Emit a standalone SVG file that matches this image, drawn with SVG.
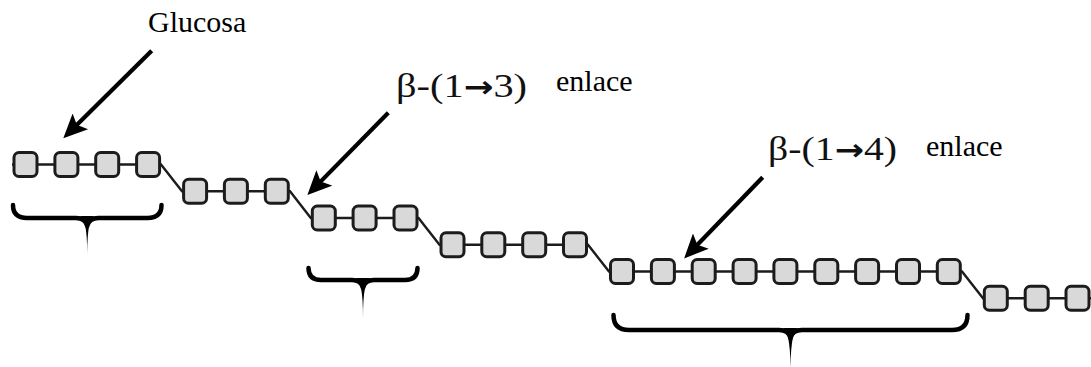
<svg xmlns="http://www.w3.org/2000/svg" width="1091" height="367" viewBox="0 0 1091 367">
<style>
.sq{fill:#d9d9d9;stroke:#1c1c1c;stroke-width:3}
.link{fill:none;stroke:#1c1c1c;stroke-width:2.4}
.arr{fill:none;stroke:#000;stroke-width:4.2}
.br{fill:none;stroke:#000;stroke-width:4.5;stroke-linecap:round}
.spk{fill:#000}
.lbl{font-size:30px;fill:#000}
.bt{font-size:34px;fill:#111}
.ar{font-weight:bold}
</style>
<defs>
<marker id="ah" markerUnits="userSpaceOnUse" markerWidth="26" markerHeight="22" viewBox="0 0 24 22" refX="14" refY="11" orient="auto">
<path d="M0,0 L24,11 L0,22 L5,11 z" fill="#000"/>
</marker>
</defs>
<rect width="1091" height="367" fill="#fff"/>
<g id="connectors">
<path class="link" d="M12,164.5 H161 L182,191.25 H290 L310.8,218 H418.5 L439.5,244.75 H588 L609,271.5 H962 L983,298.25 H1091"/>
<line class="arr" x1="151.7" y1="50.7" x2="70.4" y2="131.2" marker-end="url(#ah)"/>
<line class="arr" x1="388.3" y1="112.7" x2="314.4" y2="187.9" marker-end="url(#ah)"/>
<line class="arr" x1="762.7" y1="177.3" x2="691.1" y2="251.2" marker-end="url(#ah)"/>
</g>
<g id="row1">
<g id="n1"><rect class="sq" x="14" y="152.5" width="23" height="24" rx="5"/></g>
<g id="n2"><rect class="sq" x="54.9" y="152.5" width="23" height="24" rx="5"/></g>
<g id="n3"><rect class="sq" x="95.7" y="152.5" width="23" height="24" rx="5"/></g>
<g id="n4"><rect class="sq" x="136.6" y="152.5" width="23" height="24" rx="5"/></g>
</g>
<g id="row2">
<g id="n5"><rect class="sq" x="183.6" y="179.25" width="23" height="24" rx="5"/></g>
<g id="n6"><rect class="sq" x="224.4" y="179.25" width="23" height="24" rx="5"/></g>
<g id="n7"><rect class="sq" x="265.3" y="179.25" width="23" height="24" rx="5"/></g>
</g>
<g id="row3">
<g id="n8"><rect class="sq" x="312.3" y="206" width="23" height="24" rx="5"/></g>
<g id="n9"><rect class="sq" x="353.1" y="206" width="23" height="24" rx="5"/></g>
<g id="n10"><rect class="sq" x="394" y="206" width="23" height="24" rx="5"/></g>
</g>
<g id="row4">
<g id="n11"><rect class="sq" x="441" y="232.75" width="23" height="24" rx="5"/></g>
<g id="n12"><rect class="sq" x="481.8" y="232.75" width="23" height="24" rx="5"/></g>
<g id="n13"><rect class="sq" x="522.7" y="232.75" width="23" height="24" rx="5"/></g>
<g id="n14"><rect class="sq" x="563.5" y="232.75" width="23" height="24" rx="5"/></g>
</g>
<g id="row5">
<g id="n15"><rect class="sq" x="610.5" y="259.5" width="23" height="24" rx="5"/></g>
<g id="n16"><rect class="sq" x="651.4" y="259.5" width="23" height="24" rx="5"/></g>
<g id="n17"><rect class="sq" x="692.2" y="259.5" width="23" height="24" rx="5"/></g>
<g id="n18"><rect class="sq" x="733.1" y="259.5" width="23" height="24" rx="5"/></g>
<g id="n19"><rect class="sq" x="773.9" y="259.5" width="23" height="24" rx="5"/></g>
<g id="n20"><rect class="sq" x="814.8" y="259.5" width="23" height="24" rx="5"/></g>
<g id="n21"><rect class="sq" x="855.6" y="259.5" width="23" height="24" rx="5"/></g>
<g id="n22"><rect class="sq" x="896.5" y="259.5" width="23" height="24" rx="5"/></g>
<g id="n23"><rect class="sq" x="937.3" y="259.5" width="23" height="24" rx="5"/></g>
</g>
<g id="row6">
<g id="n24"><rect class="sq" x="984.3" y="286.25" width="23" height="24" rx="5"/></g>
<g id="n25"><rect class="sq" x="1025.2" y="286.25" width="23" height="24" rx="5"/></g>
<g id="n26"><rect class="sq" x="1066" y="286.25" width="23" height="24" rx="5"/></g>
</g>
<g id="brace1">
<path class="br" d="M13,205 Q13,218 27,218 H76 Q85,218 87.2,226 M161.5,205 Q161.5,218 147.5,218 H98.4 Q89.4,218 87.2,226"/>
<path class="spk" d="M79,216 Q87.2,216 87.2,254 Q87.2,216 95.4,216 Z"/>
</g>
<g id="brace2">
<path class="br" d="M308.5,268 Q308.5,280 321,280 H352 Q361,280 363,288 M417.5,268 Q417.5,280 405,280 H374 Q365,280 363,288"/>
<path class="spk" d="M355,278 Q363,278 363,318 Q363,278 371,278 Z"/>
</g>
<g id="brace3">
<path class="br" d="M613.5,315 Q613.5,330 629,330 H779 Q788.5,330 790.5,338 M967.5,315 Q967.5,330 952,330 H802 Q792.5,330 790.5,338"/>
<path class="spk" d="M782,328 Q790.5,328 790.5,372 Q790.5,328 799,328 Z"/>
</g>
<g id="labels" font-family="'Liberation Serif', 'Times New Roman', serif">
<text class="lbl" x="148" y="32" font-family="'Liberation Serif', 'Times New Roman', serif">Glucosa</text>
<text class="bt" x="396" y="97" textLength="131" lengthAdjust="spacingAndGlyphs" font-family="'Liberation Serif', serif">β-(1<tspan class="ar" font-family="'DejaVu Sans', sans-serif" font-size="30">→</tspan>3)</text>
<text class="lbl" x="556" y="91" font-family="'Liberation Serif', 'Times New Roman', serif">enlace</text>
<text class="bt" x="768" y="160" textLength="129" lengthAdjust="spacingAndGlyphs" font-family="'Liberation Serif', serif">β-(1<tspan class="ar" font-family="'DejaVu Sans', sans-serif" font-size="30">→</tspan>4)</text>
<text class="lbl" x="926" y="156" font-family="'Liberation Serif', 'Times New Roman', serif">enlace</text>
</g>
</svg>
